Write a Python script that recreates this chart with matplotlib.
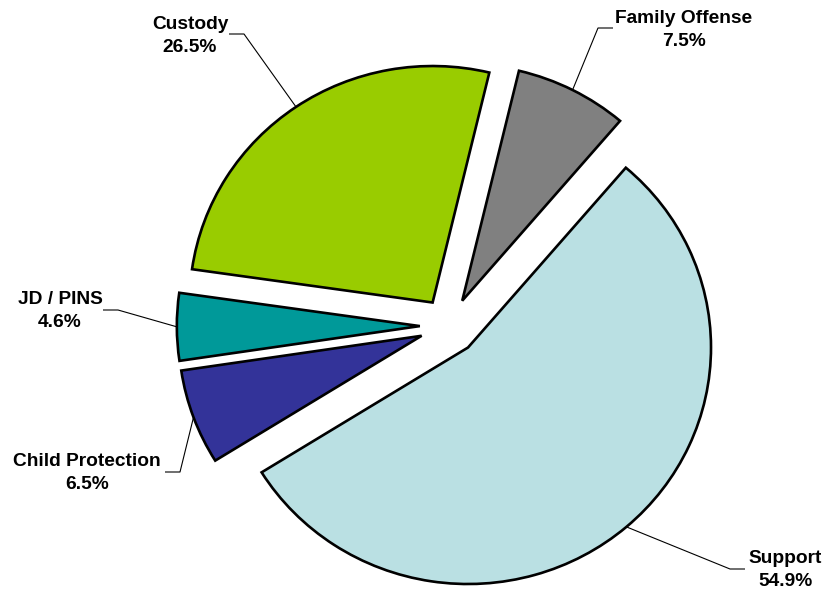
import numpy as np
import matplotlib
matplotlib.use("Agg")
import matplotlib.pyplot as plt

# case type shares, clockwise from the upper right
categories = ["Support", "Child Protection", "JD / PINS", "Custody", "Family Offense"]
shares = [54.9, 6.5, 4.6, 26.5, 7.5]
colors = ["#BAE0E3", "#333399", "#009999", "#99CC00", "#808080"]

# label block centres and leader elbows, in pixels of the 826x592 canvas
label_pos = [(785, 570), (87, 473), (60, 311), (190, 36), (684, 30)]
elbow_pos = [(730, 569), (180, 472), (118, 310), (244, 34), (598, 28)]
elbow_end = [(745, 569), (165, 472), (103, 310), (229, 34), (613, 28)]

W, H = 826, 592
CX, CY = 449, 326      # pie centre in pixels
RX, RY = 243, 236.5    # pixels per unit; the pie is drawn slightly squashed


def px(p):
    # pixel -> data units (radius 1 at the pie centre)
    return ((p[0] - CX) / RX, (CY - p[1]) / RY)


fig = plt.figure(figsize=(W / 100, H / 100), dpi=100)
ax = fig.add_axes([0, 0, 1, 1])

wedges, _ = ax.pie(shares, colors=colors, explode=[0.12] * len(shares),
                   startangle=49.5, counterclock=False, radius=1,
                   wedgeprops=dict(edgecolor="black", linewidth=1.9))

ax.set_aspect("auto")
ax.set_xlim(-CX / RX, (W - CX) / RX)
ax.set_ylim((CY - H) / RY, CY / RY)
ax.axis("off")

for w, name, val, lp, ep, ee in zip(wedges, categories, shares,
                                     label_pos, elbow_pos, elbow_end):
    mid = np.deg2rad((w.theta1 + w.theta2) / 2)
    cx, cy = w.center
    start = (cx + w.r * np.cos(mid), cy + w.r * np.sin(mid))
    pts = [start, px(ep), px(ee)]
    ax.plot([p[0] for p in pts], [p[1] for p in pts], color="black", lw=0.8,
            solid_capstyle="butt")
    tx, ty = px(lp)
    ax.text(tx, ty, f"{name}\n{val:.1f}%", ha="center", va="center",
            multialignment="center", fontsize=13.8, fontweight="bold",
            family="Liberation Sans", linespacing=1.45)

fig.savefig("out.png", dpi=100)
